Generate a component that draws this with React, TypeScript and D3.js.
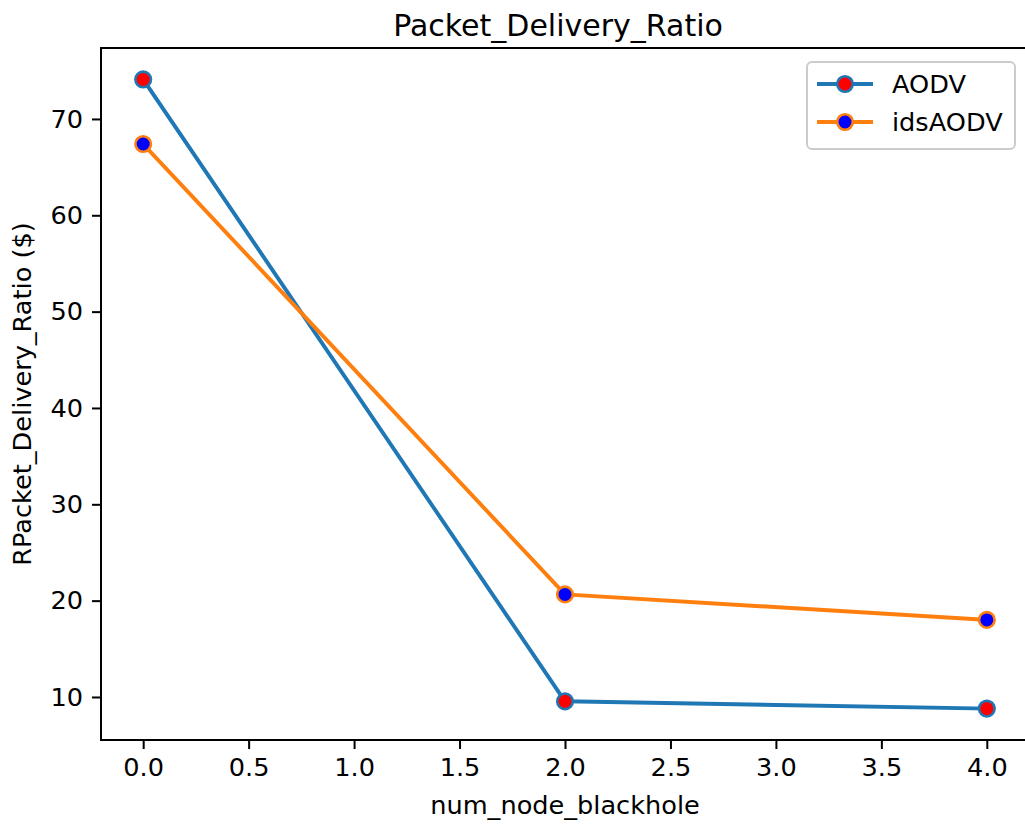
import React, { useEffect, useRef } from 'react'
import * as d3 from 'd3'

const xValues = [0, 2, 4]
const aodv = [74.1, 9.55, 8.8]
const idsAodv = [67.4, 20.65, 18.0]
const seriesNames = ['AODV', 'idsAODV']
const xTicks = [0, 0.5, 1, 1.5, 2, 2.5, 3, 3.5, 4]
const yTicks = [10, 20, 30, 40, 50, 60, 70]

const WIDTH = 1025
const HEIGHT = 828
const FONT = 'DejaVu Sans, sans-serif'
const FS = 25.6

function App() {
    const ref = useRef<SVGSVGElement | null>(null)

    useEffect(() => {
        const svg = d3.select(ref.current)
        svg.selectAll('*').remove()

        const margin = { top: 48, right: -4, bottom: 88, left: 101 }

        // matplotlib style 5% margins around the data
        const xPad = (d3.max(xValues)! - d3.min(xValues)!) * 0.05
        const allY = aodv.concat(idsAodv)
        const yMin = d3.min(allY)!
        const yMax = d3.max(allY)!
        const yPad = (yMax - yMin) * 0.05

        const x = d3.scaleLinear()
            .domain([d3.min(xValues)! - xPad, d3.max(xValues)! + xPad])
            .range([margin.left, WIDTH - margin.right])

        const y = d3.scaleLinear()
            .domain([yMin - yPad, yMax + yPad])
            .range([HEIGHT - margin.bottom, margin.top])

        const series = [
            { name: seriesNames[0], values: aodv, line: '#1f77b4', face: '#ff0000' },
            { name: seriesNames[1], values: idsAodv, line: '#ff7f0e', face: '#0000ff' }
        ]

        const line = d3.line<number>()
            .x((d, i) => x(xValues[i]))
            .y(d => y(d))

        const plot = svg.append('g')

        series.forEach(s => {
            plot.append('path')
                .datum(s.values)
                .attr('d', line)
                .attr('fill', 'none')
                .attr('stroke', s.line)
                .attr('stroke-width', 3.9)
                .attr('stroke-linecap', 'square')
                .attr('stroke-linejoin', 'round')
        })

        series.forEach(s => {
            plot.selectAll(null)
                .data(s.values)
                .join('circle')
                .attr('cx', (d, i) => x(xValues[i]))
                .attr('cy', d => y(d))
                .attr('r', 7.8)
                .attr('fill', s.face)
                .attr('stroke', s.line)
                .attr('stroke-width', 2.6)
        })

        // spines
        const [x0, x1] = x.range()
        const [y0, y1] = y.range()
        svg.append('rect')
            .attr('x', x0)
            .attr('y', y1)
            .attr('width', x1 - x0)
            .attr('height', y0 - y1)
            .attr('fill', 'none')
            .attr('stroke', '#000')
            .attr('stroke-width', 2)

        // x axis
        const xAxis = svg.append('g')
            .attr('transform', `translate(0,${y0})`)
            .call(d3.axisBottom(x).tickValues(xTicks).tickFormat(d3.format('.1f')).tickSize(9).tickPadding(9))
        xAxis.select('.domain').remove()
        xAxis.selectAll('line').attr('stroke-width', 2)
        xAxis.selectAll('text')
            .attr('font-family', FONT)
            .attr('font-size', FS)
            .attr('fill', '#000')

        // y axis
        const yAxis = svg.append('g')
            .attr('transform', `translate(${x0},0)`)
            .call(d3.axisLeft(y).tickValues(yTicks).tickFormat(d3.format('d')).tickSize(9).tickPadding(9))
        yAxis.select('.domain').remove()
        yAxis.selectAll('line').attr('stroke-width', 2)
        yAxis.selectAll('text')
            .attr('font-family', FONT)
            .attr('font-size', FS)
            .attr('fill', '#000')

        // title and axis labels
        svg.append('text')
            .attr('x', 558)
            .attr('y', 36)
            .attr('text-anchor', 'middle')
            .attr('font-family', FONT)
            .attr('font-size', 30)
            .text('Packet_Delivery_Ratio')

        svg.append('text')
            .attr('x', (x0 + x1) / 2)
            .attr('y', 814)
            .attr('text-anchor', 'middle')
            .attr('font-family', FONT)
            .attr('font-size', FS)
            .text('num_node_blackhole')

        svg.append('text')
            .attr('transform', `translate(31,${(y0 + y1) / 2}) rotate(-90)`)
            .attr('text-anchor', 'middle')
            .attr('font-family', FONT)
            .attr('font-size', FS)
            .text('RPacket_Delivery_Ratio ($)')

        // legend
        const legend = svg.append('g')
        legend.append('rect')
            .attr('x', 807)
            .attr('y', 62)
            .attr('width', 208)
            .attr('height', 87)
            .attr('rx', 5)
            .attr('fill', '#fff')
            .attr('fill-opacity', 0.8)
            .attr('stroke', '#cccccc')
            .attr('stroke-width', 2)

        series.forEach((s, i) => {
            const ly = 84 + i * 38
            legend.append('line')
                .attr('x1', 817)
                .attr('x2', 873)
                .attr('y1', ly)
                .attr('y2', ly)
                .attr('stroke', s.line)
                .attr('stroke-width', 3.9)
            legend.append('circle')
                .attr('cx', 845)
                .attr('cy', ly)
                .attr('r', 7.8)
                .attr('fill', s.face)
                .attr('stroke', s.line)
                .attr('stroke-width', 2.6)
            legend.append('text')
                .attr('x', 892)
                .attr('y', ly)
                .attr('dy', '0.35em')
                .attr('font-family', FONT)
                .attr('font-size', FS)
                .text(s.name)
        })
    }, [])

    return (
        <svg
            ref={ref}
            width={WIDTH}
            height={HEIGHT}
            style={{ position: 'absolute', left: 0, top: 0, background: '#fff' }}
        />
    )
}

export default App
